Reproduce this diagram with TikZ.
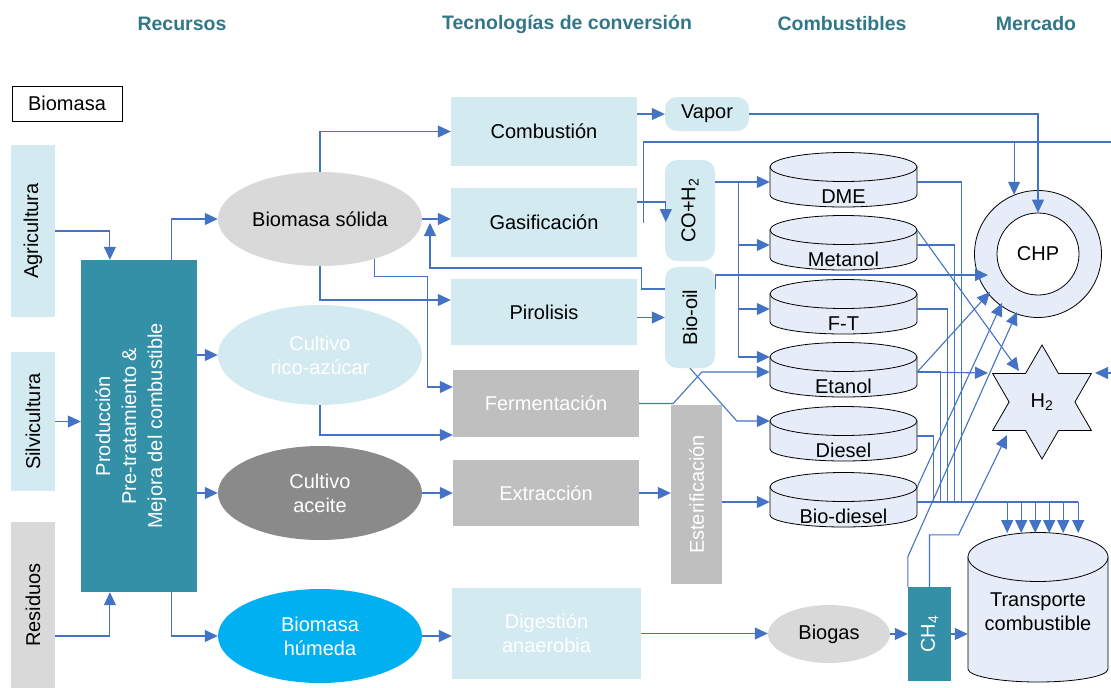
\documentclass[tikz,border=0pt]{standalone}
\usepackage{fontspec}
\setmainfont{Liberation Sans}
\usepackage{graphicx}
\usepackage{tikz}
\usetikzlibrary{shapes.geometric, shapes.misc, arrows.meta, calc}

\definecolor{azul}{RGB}{68,114,196}
\definecolor{celeste}{RGB}{210,234,240}
\definecolor{petroleo}{RGB}{52,144,167}
\definecolor{grisclaro}{RGB}{217,217,217}
\definecolor{gris}{RGB}{191,191,191}
\definecolor{grisoscuro}{RGB}{138,138,138}
\definecolor{cian}{RGB}{0,176,240}
\definecolor{tanqueazul}{RGB}{230,237,248}
\definecolor{titulo}{RGB}{49,119,135}

\begin{document}
\begin{tikzpicture}[x=1pt, y=-1pt,
    every node/.style={font=\fontsize{20}{24}\selectfont, inner sep=0pt, align=center},
    titulo/.style={font=\fontsize{19.5}{24}\selectfont\bfseries, text=titulo},
    caja/.style={rectangle, fill=celeste, minimum width=186pt},
    cajagris/.style={rectangle, fill=gris, text=white, minimum width=186pt},
    elipse/.style={ellipse, minimum width=204pt, minimum height=94pt},
    redondo/.style={rectangle, rounded corners=12pt, fill=celeste},
    recurso/.style={rectangle, minimum width=44pt},
    tanque/.style={fill=tanqueazul, draw=black, line width=0.8pt},
    rotulo/.style={minimum width=147pt, text height=14pt, text depth=0pt},
    linea/.style={draw=azul, line width=1.1pt},
    flecha/.style={linea, -{Triangle[length=13pt, width=12pt]}}]
    \useasboundingbox (0,0) rectangle (1111,688);

    % titulos
    \node[titulo] (tRec) at (182,24) {Recursos};
    \node[titulo] (tTec) at (567,24) {Tecnologías de conversión};
    \node[titulo] (tCom) at (842,24) {Combustibles};
    \node[titulo] (tMer) at (1036,24) {Mercado};

    \node[draw, line width=0.8pt, minimum width=110pt, minimum height=35pt] (biomasa) at (67,103.5) {Biomasa};

    % recursos
    \node[recurso, fill=celeste, minimum height=172pt] (agr) at (33,231) {\rotatebox{90}{Agricultura}};
    \node[recurso, fill=celeste, minimum height=139pt] (sil) at (33,421.5) {\rotatebox{90}{Silvicultura}};
    \node[recurso, fill=grisclaro, minimum height=166pt] (res) at (33,605) {\rotatebox{90}{Residuos}};
    \node[fill=petroleo, text=white, minimum width=116pt, minimum height=332pt,
        font=\fontsize{20}{26}\selectfont] (prod) at (139,426)
        {\rotatebox{90}{\raisebox{8pt}[\height][\depth]{\begin{tabular}{@{}c@{}}Producción\\Pre-tratamiento \&\\Mejora del combustible\end{tabular}}}};

    \node[elipse, fill=grisclaro] (sol) at (320,219) {Biomasa sólida};
    \node[elipse, fill=celeste, text=white, minimum height=100pt] (azu) at (320,355) {Cultivo\\rico-azúcar};
    \node[elipse, fill=grisoscuro, text=white] (ace) at (320,493) {Cultivo\\aceite};
    \node[elipse, fill=cian, text=white] (hum) at (320,636) {Biomasa\\húmeda};

    % tecnologias
    \node[caja, minimum height=69pt] (com) at (544,131.5) {Combustión};
    \node[caja, minimum height=69pt] (gas) at (544,222.5) {Gasificación};
    \node[caja, minimum height=66pt] (pir) at (544,312) {Pirolisis};
    \node[cajagris, minimum height=67pt] (fer) at (546,403.5) {Fermentación};
    \node[cajagris, minimum height=66pt] (ext) at (546,493) {Extracción};
    \node[caja, text=white, minimum width=189pt, minimum height=91pt] (dig) at (546.5,633.5) {Digestión\\anaerobia};
    \node[cajagris, minimum width=51pt, minimum height=179pt] (est) at (696.5,494.5) {\rotatebox{90}{Esterificación}};

    \node[redondo, minimum width=84pt, minimum height=34pt] (vap) at (707,114) {Vapor};
    \node[redondo, minimum width=50pt, minimum height=101pt] (co) at (690,210.5) {\rotatebox{90}{CO+H\textsubscript{2}}};
    \node[redondo, minimum width=50pt, minimum height=101pt] (oil) at (690,317.5) {\rotatebox{90}{Bio-oil}};

    % combustibles
    \foreach \n/\yt/\txt in {dme/167/DME, met/230/Metanol, ft/294/F-T, eta/357/Etanol, die/421/Diesel, bio/487/Bio-diesel}{
        \filldraw[tanque] (770,\yt) -- (770,\yt+28)
            arc[start angle=180, end angle=360, x radius=73.5pt, y radius=12pt] -- (917,\yt) -- cycle;
        \filldraw[tanque] (843.5,\yt) ellipse [x radius=73.5pt, y radius=14.5pt];
        \node[rotulo] (\n) at (843.5,\yt+29) {\txt};
    }

    \node[ellipse, fill=grisclaro, minimum width=122pt, minimum height=58pt] (bgs) at (829,634) {Biogas};
    \node[fill=petroleo, text=white, minimum width=43pt, minimum height=94pt] (ch4) at (929.5,634) {\rotatebox{90}{CH\textsubscript{4}}};

    % mercado
    \filldraw[tanque] (968,557) -- (968,669)
        arc[start angle=180, end angle=360, x radius=70pt, y radius=13pt] -- (1108,557) -- cycle;
    \filldraw[tanque] (1038,557) ellipse [x radius=70pt, y radius=24.5pt];
    \node[minimum width=140pt] (tra) at (1038,612) {Transporte\\combustible};

    \node[circle, tanque, minimum size=127pt] (chpo) at (1038,254) {};
    \node[circle, draw=black, line width=0.8pt, fill=white, minimum size=82pt] (chp) at (1038,254) {CHP};
    \node[star, star points=6, star point ratio=1.732, minimum size=114pt, tanque] (h2) at (1042,402) {H\textsubscript{2}};

    \coordinate (retorno) at (430,223);
    \coordinate (borde1) at (1111,142);
    \coordinate (borde2) at (1111,373);

    % conexiones recursos
    \draw[flecha] (agr.east) -| ($(prod.north west)!0.25!(prod.north east)$);
    \draw[flecha] (sil.east) -- (sil.east -| prod.west);
    \draw[flecha] (res.east |- hum.west) -| ($(prod.south west)!0.25!(prod.south east)$);
    \draw[flecha] ($(prod.north west)!0.776!(prod.north east)$) |- (sol.west);
    \draw[flecha] (prod.east |- azu.west) -- (azu.west);
    \draw[flecha] (prod.east |- ace.west) -- (ace.west);
    \draw[flecha] ($(prod.south west)!0.776!(prod.south east)$) |- (hum.west);

    % conexiones tecnologias
    \draw[flecha] (sol.north) |- (com.west);
    \draw[flecha] (sol.east) -- (sol.east -| gas.west);
    \draw[flecha] (sol.south) |- ($(pir.west)+(0,-12)$);
    \draw[flecha] (sol.-36.5) -- ++(0,18) -| ($(fer.west)+(-25,-16.5)$) -- ($(fer.west)+(0,-16.5)$);
    \draw[flecha] (azu.south) |- ($(fer.west)+(0,31.5)$);
    \draw[flecha] (ace.east) -- (ext.west);
    \draw[flecha] (hum.east) -- (hum.east -| dig.west);
    \draw[flecha] (com.east |- vap.west) -- (vap.west);
    \draw[flecha] ($(gas.east)+(0,-20.5)$) -| ($(co.west)+(1,11.5)$);
    \draw[linea] ($(gas.east)+(6,0)$) |- (borde1);
    \draw[flecha] (pir.east |- oil.west) -- (oil.west);
    \draw[flecha] ($(oil.west)+(0,-28.5)$) -| ($(oil.west)+(-23,-49.5)$) -| (retorno);
    \draw[flecha] (ext.east) -- (ext.east -| est.west);

    % conexiones combustibles
    \coordinate (cobus) at ($(dme.west)+(-31,-14)$);
    \draw[flecha] (co.east |- cobus) -- ($(dme.west)+(0,-14)$);
    \foreach \c in {met, ft}
        \draw[flecha] (cobus) |- ($(\c.west)+(0,-14)$);
    \draw[flecha] (cobus) |- ($(eta.west)+(0,-29)$);
    \draw[flecha] (fer.east) -- ++(34,0) -- ($(eta.west)+(-68,-14)$) -- ($(eta.west)+(0,-14)$);
    \draw[flecha] (oil.south) -- ($(die.west)+(-33,-29)$) -- ($(die.west)+(0,-29)$);
    \draw[flecha] (est.east |- bio.west) ++(0,-14) -- ($(bio.west)+(0,-14)$);
    \draw[flecha] (dig.east) -- (dig.east -| bgs.west);
    \draw[flecha] (bgs.east) -- (ch4.west);
    \draw[flecha] (ch4.east) -- (ch4.east -| tra.west);

    % conexiones mercado
    \draw[flecha] (vap.east) -| (chp.north);
    \draw[flecha] (borde1 -| chpo.112) -- (chpo.112);
    \draw[flecha] ($(oil.east)+(0,-28.5)$) |- ($(chpo.center)+(-50,21)$);
    \draw[flecha] ($(eta.east)+(0,-14)$) -- ($(chpo.center)+(-48,38)$);
    \draw[flecha] ($(bio.east)+(0,-29)$) -- ($(chpo.center)+(-36,49)$);
    \draw[flecha] (ch4.north west) -- ++(0,-30) -- ($(chpo.center)+(-21,58)$);
    \draw[flecha] ($(met.east)+(0,-29)$) -- ($(h2.center)+(-23,-31)$);
    \draw[flecha] ($(eta.east)+(0,-14)$) -- ($(h2.center)+(-54,-29)$);
    \draw[flecha] (borde2) -- ($(h2.center)+(53,-29)$);
    \draw[flecha] (ch4.north) -- ++(0,-52) -- ++(29,0) -- ($(h2.center)+(-35,33)$);

    \coordinate (bus) at ($(bio.east)+(0,-14)$);
    \foreach \c/\dx in {dme/44, met/37, ft/30, eta/23, die/16}
        \draw[linea] ($(\c.east)+(0,-14)$) -| ($(bus)+(\dx,0)$);
    \draw[linea] (bus) -- ++(161,0);
    \foreach \dx in {90,104,118,132,146,161}
        \draw[flecha] ($(bus)+(\dx,0)$) -- ++(0,31);
\end{tikzpicture}
\end{document}
